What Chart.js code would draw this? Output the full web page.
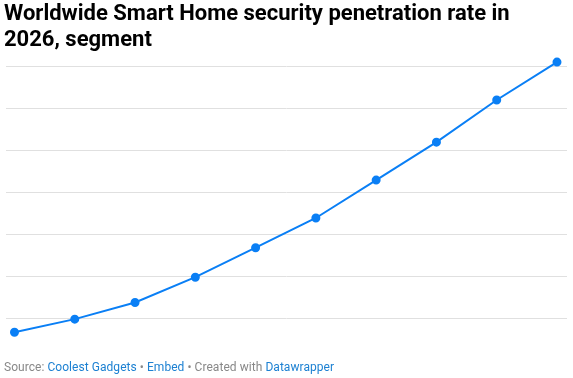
<!DOCTYPE html>
<html>
<head>
<meta charset="utf-8">
<script src="https://cdn.jsdelivr.net/npm/chart.js@4"></script>
<style>
  html, body { margin: 0; padding: 0; background: #fff; }
  body { width: 573px; height: 378px; position: relative; overflow: hidden; font-family: Roboto, "Noto Sans", sans-serif; }
  #title { position: absolute; left: 4px; top: 0px; width: 569px; font-weight: 700; font-size: 22px; line-height: 26px; color: #000; letter-spacing: 0px; white-space: nowrap; }
  #wrap { position: absolute; left: 0; top: 0; width: 573px; height: 378px; }
  #footer { position: absolute; left: 4px; top: 360px; font-size: 12px; color: #888; white-space: nowrap; letter-spacing: 0.05px; }
  #footer a { color: #1d81d2; text-decoration: none; }
</style>
</head>
<body>
<div id="wrap"><canvas id="c" width="573" height="378"></canvas></div>
<div id="title">Worldwide Smart Home security penetration rate in<br>2026, segment</div>
<div id="footer">Source: <a>Coolest Gadgets</a> • <a>Embed</a> • Created with <a>Datawrapper</a></div>
<script>
const categories = ["2017","2018","2019","2020","2021","2022","2023","2024","2025","2026"];
const penetration = [1.37, 1.99, 2.78, 3.98, 5.38, 6.79, 8.59, 10.39, 12.39, 14.19];
const yTicks = [2, 4, 6, 8, 10, 12, 14];

new Chart(document.getElementById('c'), {
  type: 'line',
  data: {
    datasets: [{
      label: 'Penetration rate',
      data: categories.map((c, i) => ({ x: i, y: penetration[i] })),
      borderColor: '#0a7ff5',
      backgroundColor: '#0a7ff5',
      borderWidth: 2,
      pointRadius: 3.5,
      pointHoverRadius: 3.5,
      tension: 0
    }]
  },
  options: {
    responsive: false,
    animation: false,
    events: [],
    layout: { padding: { left: 4, right: 6, top: 45, bottom: 38 } },
    plugins: { legend: { display: false }, tooltip: { enabled: false } },
    scales: {
      x: {
        type: 'linear',
        min: -0.149, max: 9.166,
        display: false
      },
      y: {
        min: 1, max: 15,
        afterBuildTicks: s => { s.ticks = yTicks.map(v => ({ value: v })); },
        ticks: { display: false },
        grid: { color: '#e0e0e0', lineWidth: 1, drawTicks: false },
        border: { display: false }
      }
    }
  }
});
</script>
</body>
</html>
